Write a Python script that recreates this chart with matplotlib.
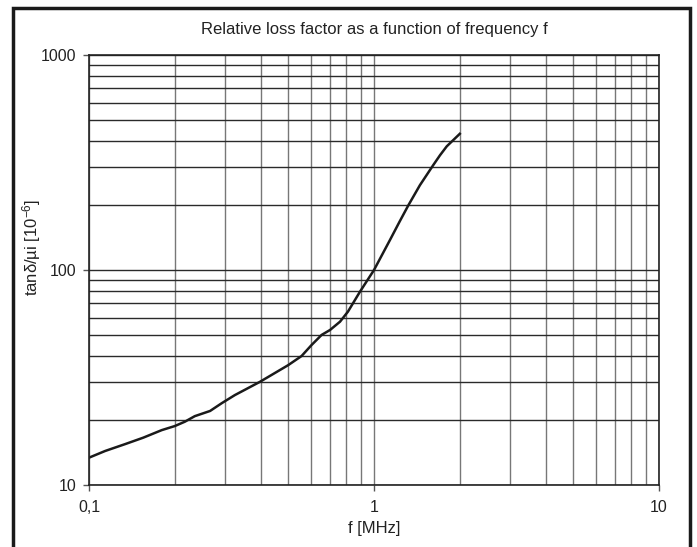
import matplotlib
matplotlib.use("Agg")
import matplotlib.pyplot as plt
from matplotlib.patches import Rectangle
from matplotlib.ticker import LogLocator, FixedLocator, FixedFormatter, NullFormatter

plt.rcParams['font.family'] = ['Liberation Sans', 'DejaVu Sans']
plt.rcParams['mathtext.fontset'] = 'custom'
plt.rcParams['mathtext.rm'] = 'Liberation Sans'
plt.rcParams['mathtext.it'] = 'Liberation Sans'

# curve
freq = [0.1, 0.114, 0.134, 0.155, 0.180, 0.2, 0.217, 0.235, 0.266, 0.292,
        0.325, 0.398, 0.5, 0.557, 0.604, 0.655, 0.701, 0.76, 0.81, 0.893,
        1.0, 1.138, 1.23, 1.32, 1.449, 1.615, 1.705, 1.80, 2.0]
tan_mu = [13.4, 14.4, 15.5, 16.6, 18.0, 18.8, 19.7, 20.9, 22.1, 24.0,
          26.2, 30.2, 36.1, 39.8, 44.8, 49.9, 52.6, 57.5, 64.0, 79.3,
          100, 138, 168, 200, 248, 308, 342, 376, 430]

x_ticks = [0.1, 1, 10]
x_labels = ["0,1", "1", "10"]
y_ticks = [10, 100, 1000]
y_labels = ["10", "100", "1000"]

fig = plt.figure(figsize=(6.97, 5.47), dpi=100)
ax = fig.add_axes([89 / 697, 1 - 485 / 547, 570 / 697, 430 / 547])

ax.plot(freq, tan_mu, color="#1a1a1a", lw=1.8, solid_joinstyle="round")
ax.set_xscale("log")
ax.set_yscale("log")
ax.set_xlim(0.1, 10)
ax.set_ylim(10, 1000)

ax.xaxis.set_major_locator(FixedLocator(x_ticks))
ax.xaxis.set_major_formatter(FixedFormatter(x_labels))
ax.yaxis.set_major_locator(FixedLocator(y_ticks))
ax.yaxis.set_major_formatter(FixedFormatter(y_labels))
ax.xaxis.set_minor_locator(LogLocator(base=10, subs=range(2, 10)))
ax.yaxis.set_minor_locator(LogLocator(base=10, subs=range(2, 10)))
ax.xaxis.set_minor_formatter(NullFormatter())
ax.yaxis.set_minor_formatter(NullFormatter())

ax.tick_params(which="major", direction="out", length=4, width=1, color="#555555",
               labelsize=11.5, labelcolor="#222222")
ax.tick_params(axis="x", which="major", pad=7)
ax.tick_params(axis="y", which="major", pad=5)
ax.tick_params(which="minor", length=0)

# grid: vertical grey, horizontal darker
ax.grid(True, axis="x", which="both", color="#777777", lw=1.0)
ax.grid(True, axis="y", which="both", color="#2a2a2a", lw=1.0)
ax.set_axisbelow(True)
for s in ax.spines.values():
    s.set_color("#222222")
    s.set_linewidth(1.2)

ax.set_title("Relative loss factor as a function of frequency f", fontsize=12,
             color="#222222", pad=15)
ax.set_xlabel("f [MHz]", fontsize=12, color="#222222", labelpad=4)
ax.set_ylabel(r"tanδ/µi [10$^{-6}$]", fontsize=12, color="#222222")
ax.yaxis.set_label_coords(-0.081, 0.553)

# outer frame around the figure (open at the bottom)
fig.patches.append(Rectangle((13 / 697, -0.05), 677 / 697, 1.05 - 8 / 547,
                             transform=fig.transFigure, fill=False,
                             edgecolor="#1a1a1a", lw=2.5))

fig.savefig("out.png", dpi=100)
